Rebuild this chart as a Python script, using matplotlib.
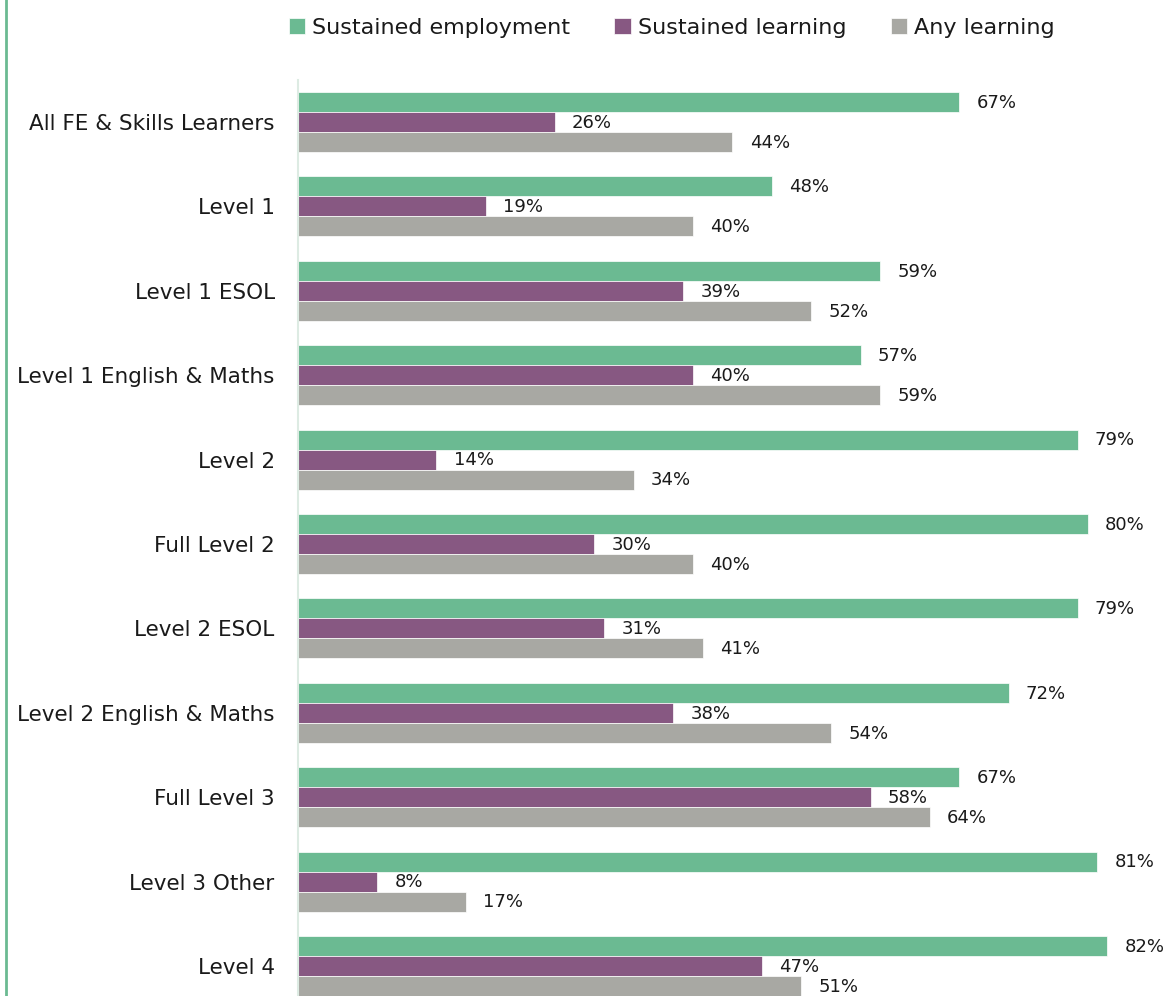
import numpy as np
import matplotlib.pyplot as plt
from matplotlib.lines import Line2D

# Outcome rates by learner group (%)
categories = [
    "All FE & Skills Learners", "Level 1", "Level 1 ESOL",
    "Level 1 English & Maths", "Level 2", "Full Level 2", "Level 2 ESOL",
    "Level 2 English & Maths", "Full Level 3", "Level 3 Other", "Level 4",
]
series_names = ["Sustained employment", "Sustained learning", "Any learning"]
sustained_employment = [67, 48, 59, 57, 79, 80, 79, 72, 67, 81, 82]
sustained_learning = [26, 19, 39, 40, 14, 30, 31, 38, 58, 8, 47]
any_learning = [44, 40, 52, 59, 34, 40, 41, 54, 64, 17, 51]

colors = ["#6BBA92", "#875882", "#A8A8A3"]
text_col = "#1A1A1A"

plt.rcParams["font.family"] = ["DejaVu Sans"]

fig = plt.figure(figsize=(11.66, 9.96), dpi=100)
ax = fig.add_axes([298.3 / 1166, 0, 1 - 298.3 / 1166, 1 - 80 / 996])

y = np.arange(len(categories))
h = 0.237
values = [sustained_employment, sustained_learning, any_learning]
bars = []
for i, (name, vals, c) in enumerate(zip(series_names, values, colors)):
    b = ax.barh(y + (i - 1) * h, vals, height=h, color=c, label=name,
                edgecolor="white", linewidth=0.5)
    bars.append(b)
    for yy, v in zip(y + (i - 1) * h, vals):
        ax.text(v + 1.75, yy + 0.01, f"{v}%", va="center", ha="left",
                fontsize=13, color=text_col)

ax.set_xlim(0, 87.95)
ax.set_ylim(10.355, -0.498)
ax.set_yticks(y)
ax.set_yticklabels(categories, fontsize=15.5, color=text_col)
ax.tick_params(axis="y", length=0, pad=17)
ax.set_xticks([])
for s in ["top", "right", "bottom"]:
    ax.spines[s].set_visible(False)
ax.spines["left"].set_color("#DDEBE3")
ax.spines["left"].set_linewidth(1.5)

leg = fig.legend(handles=bars, loc="center", bbox_to_anchor=(0.576, 0.972),
                 ncol=3, frameon=False, fontsize=16, handlelength=0.75,
                 handleheight=0.75, handletextpad=0.3, columnspacing=2.0)
for t in leg.get_texts():
    t.set_color(text_col)

# green rule along the left edge
fig.add_artist(Line2D([5.5 / 1166, 5.5 / 1166], [0, 1], transform=fig.transFigure,
                      color="#6BBA92", linewidth=2))

fig.savefig("out.png", dpi=100)
